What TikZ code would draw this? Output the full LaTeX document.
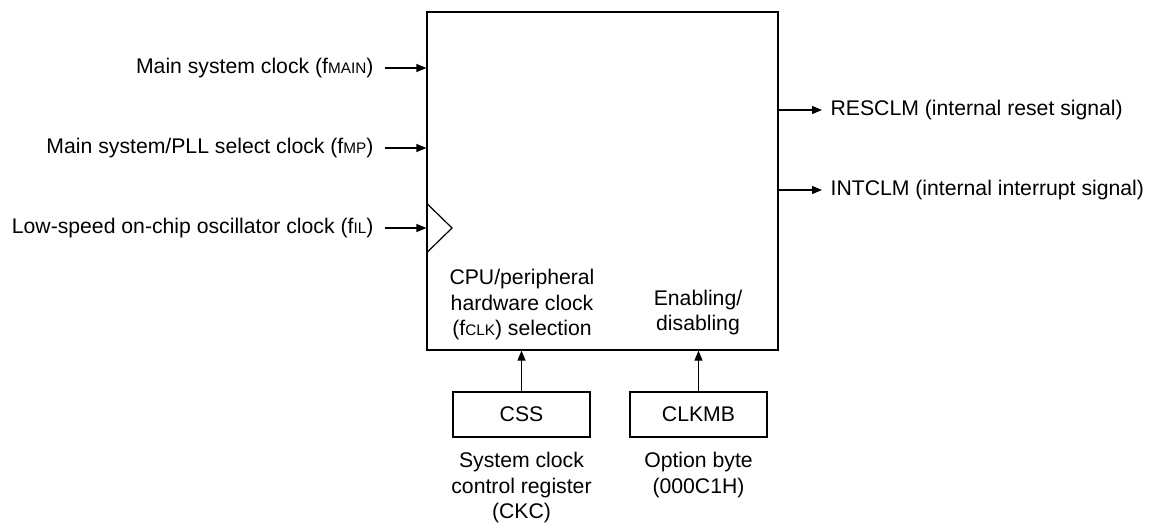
\documentclass[tikz,border=0pt]{standalone}
\usepackage{fontspec}
\setmainfont{Liberation Sans}
\usetikzlibrary{arrows.meta,positioning}
\newcommand{\sigsub}[1]{{\fontsize{15.3}{15.3}\selectfont #1}}

\begin{document}
\begin{tikzpicture}[x=1pt,y=-1pt,>={Triangle[length=10pt,width=8pt]},line width=1.2pt,
  every node/.style={font=\fontsize{21.2}{25.5}\selectfont},
  regbox/.style={draw,minimum width=137pt,minimum height=45pt,inner sep=0pt}]
  \useasboundingbox (0,0) rectangle (1149,523);
  % clock monitor block
  \node[draw,minimum width=351pt,minimum height=338pt,inner sep=0pt] (clm) at (602.5,181) {};
  \draw (clm.west |- 0,203) -- (452,228) -- (clm.west |- 0,253);
  % inputs
  \node[anchor=east,inner sep=0pt] (fmain) at (374,68) {Main system clock (f\sigsub{MAIN})};
  \node[anchor=east,inner sep=0pt] (fmp) at (374,148) {Main system/PLL select clock (f\sigsub{MP})};
  \node[anchor=east,inner sep=0pt] (fil) at (374,228) {Low-speed on-chip oscillator clock (f\sigsub{IL})};
  \foreach \n in {fmain,fmp,fil}
    \draw[->] ([xshift=11pt]\n.east) -- (\n -| clm.west);
  % outputs
  \node[anchor=west,inner sep=0pt] (rescl) at (830,110) {RESCLM (internal reset signal)};
  \node[anchor=west,inner sep=0pt] (intcl) at (830,190) {INTCLM (internal interrupt signal)};
  \foreach \n in {rescl,intcl}
    \draw[->] (\n -| clm.east) -- ([xshift=-8pt]\n.west);
  % inner labels
  \node[align=center] (fclk) at (522,305) {CPU/peripheral\\hardware clock\\(f\sigsub{CLK}) selection};
  \node[align=center] (enab) at (698,312.5) {Enabling/\\disabling};
  % registers
  \node[regbox] (css) at (521.5,414.5) {CSS};
  \node[regbox] (clkmb) at (698.5,414.5) {CLKMB};
  \draw[->] (css.north) -- (css |- clm.south);
  \draw[->] (clkmb.north) -- (clkmb |- clm.south);
  \node[align=center,below=11pt of css] (ckc) {System clock\\control register\\(CKC)};
  \node[align=center,below=11pt of clkmb] (optb) {Option byte\\(000C1H)};
\end{tikzpicture}
\end{document}
